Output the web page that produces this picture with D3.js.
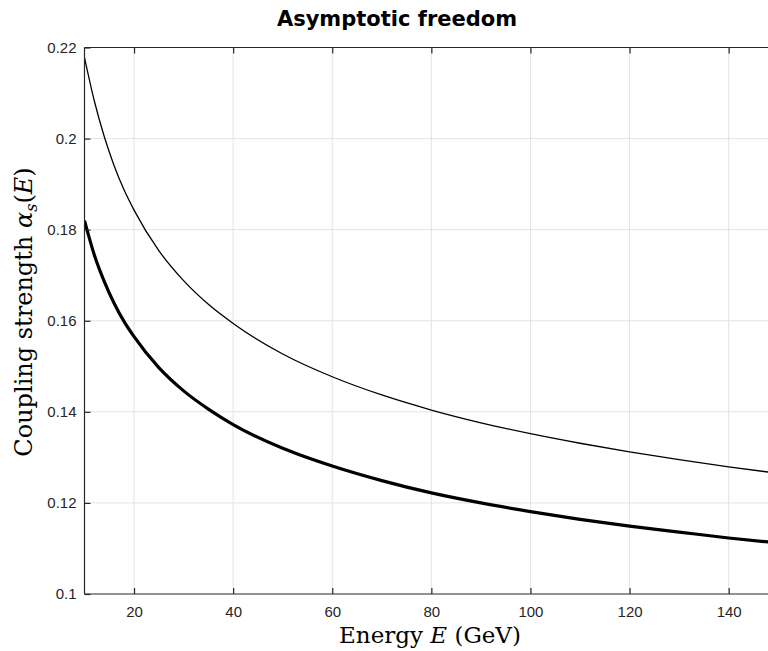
<!DOCTYPE html>
<html>
<head>
<meta charset="utf-8">
<script src="https://cdn.jsdelivr.net/npm/d3@7"></script>
<style>
  body { margin: 0; background: #fff; }
  svg { display: block; }
</style>
</head>
<body>
<div id="chart"></div>
<script>
// energies (GeV) and the two coupling curves
const energy = [10, 12, 14, 16, 18, 20, 25, 30, 35, 40, 50, 60, 70, 80, 90, 100, 110, 120, 130, 140, 150];
const alphaThin = [0.2178, 0.2082, 0.2004, 0.1940, 0.1887, 0.1843, 0.1754, 0.1688, 0.1636, 0.1594,
                   0.1527, 0.1477, 0.1437, 0.1404, 0.1376, 0.1352, 0.1331, 0.1312, 0.1295, 0.1279, 0.1265];
const alphaThick = [0.1820, 0.1744, 0.1686, 0.1638, 0.1598, 0.1565, 0.1497, 0.1446, 0.1406, 0.1372,
                    0.1320, 0.1281, 0.1249, 0.1222, 0.1200, 0.1181, 0.1164, 0.1149, 0.1136, 0.1123, 0.1112];
const xTicks = [20, 40, 60, 80, 100, 120, 140];
const yTicks = [0.1, 0.12, 0.14, 0.16, 0.18, 0.2, 0.22];

const width = 768, height = 651;
const plotLeft = 84.5, plotTop = 47.5, plotBottom = 594;
const pxPerGeV = 4.955;

const svg = d3.select("#chart").append("svg")
    .attr("width", width)
    .attr("height", height);

const x = d3.scaleLinear().domain([10, 150]).range([plotLeft, plotLeft + 140 * pxPerGeV]);
const y = d3.scaleLinear().domain([0.1, 0.22]).range([plotBottom, plotTop]);

svg.append("clipPath").attr("id", "plotClip")
    .append("rect")
    .attr("x", plotLeft).attr("y", plotTop)
    .attr("width", x(150) - plotLeft).attr("height", plotBottom - plotTop);

// grid
const grid = svg.append("g").attr("stroke", "#e3e3e3").attr("stroke-width", 1);
grid.selectAll("line.vx")
    .data(xTicks)
    .enter().append("line")
    .attr("x1", d => x(d)).attr("x2", d => x(d))
    .attr("y1", plotTop).attr("y2", plotBottom);
grid.selectAll("line.hy")
    .data(yTicks.slice(1, -1))
    .enter().append("line")
    .attr("x1", plotLeft).attr("x2", width)
    .attr("y1", d => y(d)).attr("y2", d => y(d));

// curves
const line = d3.line()
    .x((d, i) => x(energy[i]))
    .y(d => y(d))
    .curve(d3.curveMonotoneX);

const curves = svg.append("g").attr("clip-path", "url(#plotClip)");
curves.append("path")
    .datum(alphaThin)
    .attr("d", line)
    .attr("fill", "none")
    .attr("stroke", "#000")
    .attr("stroke-width", 1.3);
curves.append("path")
    .datum(alphaThick)
    .attr("d", line)
    .attr("fill", "none")
    .attr("stroke", "#000")
    .attr("stroke-width", 3.2);

// axes, MATLAB style: ticks point inward, box on top
const xAxis = d3.axisBottom(x).tickValues(xTicks).tickSizeInner(-6).tickSizeOuter(0).tickPadding(12);
const yAxis = d3.axisLeft(y).tickValues(yTicks).tickSizeInner(-6).tickSizeOuter(0)
    .tickPadding(8).tickFormat(d => String(+d.toFixed(2)));
const xTop = d3.axisTop(x).tickValues(xTicks).tickSizeInner(-6).tickSizeOuter(0).tickFormat("");

function styleAxis(g) {
    g.select(".domain").remove();
    g.selectAll(".tick line").attr("stroke", "#262626").attr("stroke-width", 1.2);
    g.selectAll(".tick text")
        .attr("fill", "#262626")
        .style("font-family", "'Liberation Sans', Arial, sans-serif")
        .style("font-size", "15px");
}

svg.append("g").attr("transform", `translate(0,${plotBottom})`).call(xAxis).call(styleAxis);
svg.append("g").attr("transform", `translate(${plotLeft},0)`).call(yAxis).call(styleAxis);
svg.append("g").attr("transform", `translate(0,${plotTop})`).call(xTop).call(styleAxis);

// box lines run off the right edge of the window
const box = svg.append("g").attr("stroke", "#262626").attr("stroke-width", 1.2);
box.append("line").attr("x1", plotLeft).attr("x2", width).attr("y1", plotBottom).attr("y2", plotBottom);
box.append("line").attr("x1", plotLeft).attr("x2", width).attr("y1", plotTop).attr("y2", plotTop);
box.append("line").attr("x1", plotLeft).attr("x2", plotLeft).attr("y1", plotTop).attr("y2", plotBottom);

// title
svg.append("text")
    .attr("x", 397).attr("y", 26)
    .attr("text-anchor", "middle")
    .style("font-family", "'DejaVu Sans', sans-serif")
    .style("font-weight", "bold")
    .style("font-size", "21px")
    .text("Asymptotic freedom");

// x label
const xl = svg.append("text")
    .attr("x", 430).attr("y", 643)
    .attr("text-anchor", "middle")
    .style("font-family", "'DejaVu Serif', 'Liberation Serif', serif")
    .style("font-size", "23px");
xl.append("tspan").text("Energy ");
xl.append("tspan").style("font-style", "italic").text("E");
xl.append("tspan").text(" (GeV)");

// y label
const yl = svg.append("text")
    .attr("transform", "translate(32,312) rotate(-90)")
    .attr("text-anchor", "middle")
    .style("font-family", "'DejaVu Serif', 'Liberation Serif', serif")
    .style("font-size", "24px");
yl.append("tspan").text("Coupling strength ");
yl.append("tspan").style("font-style", "italic").text("α");
yl.append("tspan").style("font-style", "italic").style("font-size", "16px").attr("dy", 5).text("s");
yl.append("tspan").attr("dy", -5).text("(");
yl.append("tspan").style("font-style", "italic").text("E");
yl.append("tspan").text(")");
</script>
</body>
</html>
